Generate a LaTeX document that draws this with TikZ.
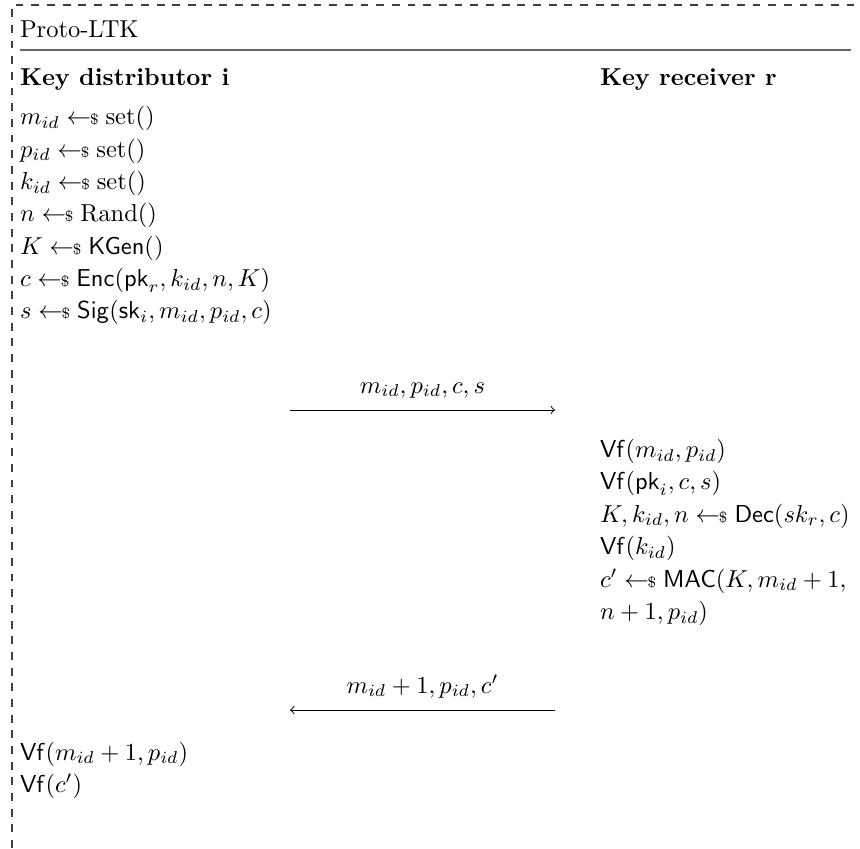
\documentclass[tikz,border=0pt]{standalone}
\usepackage{amsmath}
\newcommand{\smp}{\mathrel{\leftarrow\!\!\mbox{\fontsize{6}{6}\selectfont\$}}}
\begin{document}
\begin{tikzpicture}[x=0.4082pt,y=-0.4082pt,
  txt/.style={anchor=base west,inner sep=0pt,outer sep=0pt},
  lbl/.style={anchor=base,inner sep=0pt,outer sep=0pt},
  frame/.style={draw=black!75,line width=0.45pt,dash pattern=on 3.2pt off 3.2pt},
  rulel/.style={draw=black!60,line width=0.7pt},
  msg/.style={draw=black,line width=0.4pt,->}]
\useasboundingbox (0,0) rectangle (860,848);
% frame
\coordinate (fbl) at (12,848);
\coordinate (ftl) at (12,5);
\coordinate (ftr) at (862,5);
\draw[frame] (fbl) -- (ftl) -- (ftr);
% title
\node[txt] (title) at (20,37.5) {Proto-LTK};
\coordinate (rl) at (20,50);
\coordinate (rr) at (851,50);
\draw[rulel] (rl) -- (rr);
% parties
\node[txt] (pi) at (20,85.5) {\textbf{Key distributor i}};
\node[txt] (pr) at (600,85.5) {\textbf{Key receiver r}};
% distributor steps
\node[txt] (l1) at (20,125) {$m_{id} \smp \mathrm{set}()$};
\node[txt] (l2) at (20,157.3) {$p_{id} \smp \mathrm{set}()$};
\node[txt] (l3) at (20,189.6) {$k_{id} \smp \mathrm{set}()$};
\node[txt] (l4) at (20,221.9) {$n \smp \mathrm{Rand}()$};
\node[txt] (l5) at (20,254.2) {$K \smp \mathsf{KGen}()$};
\node[txt] (l6) at (20,286.5) {$c \smp \mathsf{Enc}(\mathsf{pk}_r, k_{id}, n, K)$};
\node[txt] (l7) at (20,318.8) {$s \smp \mathsf{Sig}(\mathsf{sk}_i, m_{id}, p_{id}, c)$};
% message 1
\coordinate (m1s) at (290,410);
\coordinate (m1e) at (555,410);
\draw[msg] (m1s) -- (m1e);
\node[lbl] (m1l) at (422.5,393) {$m_{id}, p_{id}, c, s$};
% receiver steps
\node[txt] (r1) at (600,457.5) {$\mathsf{Vf}(m_{id}, p_{id})$};
\node[txt] (r2) at (600,489.9) {$\mathsf{Vf}(\mathsf{pk}_i, c, s)$};
\node[txt] (r3) at (600,522.3) {$K, k_{id}, n \smp \mathsf{Dec}(sk_r, c)$};
\node[txt] (r4) at (600,554.7) {$\mathsf{Vf}(k_{id})$};
\node[txt] (r5) at (600,587.1) {$c' \smp \mathsf{MAC}(K, m_{id}+1,$};
\node[txt] (r6) at (600,619.5) {$n+1, p_{id})$};
% message 2
\coordinate (m2s) at (555,710);
\coordinate (m2e) at (290,710);
\draw[msg] (m2s) -- (m2e);
\node[lbl] (m2l) at (422.5,693) {$m_{id}+1, p_{id}, c'$};
% final checks
\node[txt] (f1) at (20,760) {$\mathsf{Vf}(m_{id}+1, p_{id})$};
\node[txt] (f2) at (20,792) {$\mathsf{Vf}(c')$};
\end{tikzpicture}
\end{document}
